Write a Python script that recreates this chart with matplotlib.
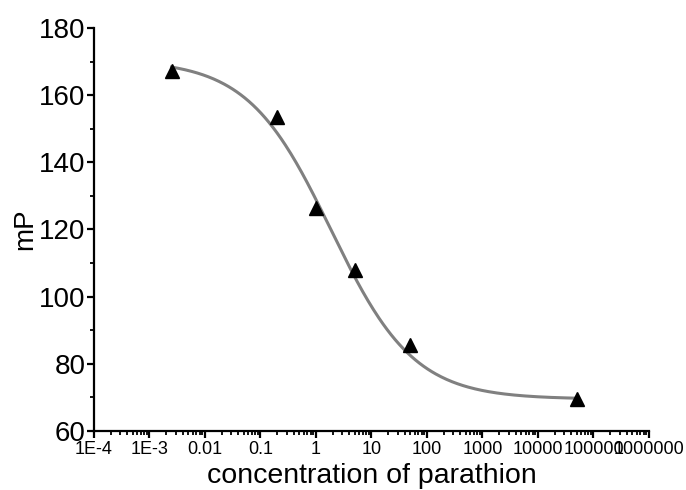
import numpy as np
import matplotlib
matplotlib.use("Agg")
import matplotlib.pyplot as plt
from matplotlib.ticker import LogLocator, NullFormatter, MultipleLocator

plt.rcParams['font.family'] = ['Liberation Sans', 'DejaVu Sans']

# measured points
conc = [0.0025, 0.2, 1, 5, 50, 50000]
mp = [167.2, 153.4, 126.5, 107.8, 85.6, 69.6]

# fitted 4-parameter logistic
fit_top = 170.5
fit_bottom = 69.5
fit_ic50 = 1.85
fit_hill = 0.58

xtick_vals = [1e-4, 1e-3, 1e-2, 1e-1, 1, 10, 100, 1000, 1e4, 1e5, 1e6]
xtick_labels = ["1E-4", "1E-3", "0.01", "0.1", "1", "10", "100", "1000",
                "10000", "100000", "1000000"]

fig = plt.figure(figsize=(6.86, 4.90), dpi=100)
ax = fig.add_axes([0.137, 0.1204, 0.809, 0.8225])

xs = np.logspace(np.log10(min(conc)), np.log10(max(conc)), 300)
ys = fit_bottom + (fit_top - fit_bottom) / (1 + (xs / fit_ic50) ** fit_hill)
ax.plot(xs, ys, color='#808080', lw=2.2, zorder=2)
ax.plot(conc, mp, linestyle='none', marker='^', ms=9.5, color='black', zorder=3)

ax.set_xscale('log')
ax.set_xlim(1e-4, 1e6)
ax.set_ylim(60, 180)

ax.set_xticks(xtick_vals)
ax.set_xticklabels(xtick_labels)
ax.xaxis.set_minor_locator(LogLocator(base=10, subs=np.arange(2, 10), numticks=50))
ax.xaxis.set_minor_formatter(NullFormatter())
ax.yaxis.set_major_locator(MultipleLocator(20))
ax.yaxis.set_minor_locator(MultipleLocator(10))

for s in ['top', 'right']:
    ax.spines[s].set_visible(False)
for s in ['left', 'bottom']:
    ax.spines[s].set_linewidth(1.6)

ax.tick_params(axis='both', which='major', direction='out', length=5, width=1.6, color='black')
ax.tick_params(axis='both', which='minor', direction='out', length=3, width=1.3, color='black')
ax.tick_params(axis='x', which='major', labelsize=13, pad=2)
ax.tick_params(axis='y', which='major', labelsize=20, pad=1)

ax.set_xlabel('concentration of parathion', fontsize=20.5, labelpad=4)
ax.set_ylabel('mP', fontsize=20, labelpad=1)

fig.savefig('out.png', dpi=100)
